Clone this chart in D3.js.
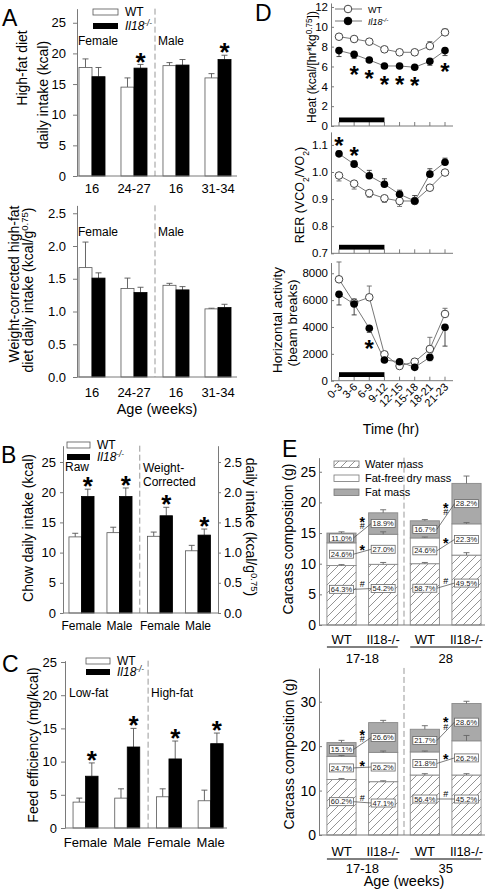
<!DOCTYPE html>
<html><head><meta charset="utf-8">
<script src="https://cdn.jsdelivr.net/npm/d3@7"></script>
<style>body{margin:0;background:#fff}</style>
</head><body>
<script>
// ================= DATA =================
// Panel A (high-fat diet intake)
const ageGroupsA = ["F16","F24-27","M16","M31-34"];
const ageLabelsA = ["16","24-27","16","31-34"];
const hfWT = [17.7,14.5,18.0,16.0], hfWTerr = [1.4,1.5,0.5,0.7];
const hfKO = [16.2,17.6,18.1,19.0], hfKOerr = [1.5,0.6,0.9,0.7];
const hfStars = [0,1,0,1];
const wcWT = [1.67,1.35,1.40,1.04], wcWTerr = [0.39,0.16,0.03,0.01];
const wcKO = [1.51,1.29,1.33,1.06], wcKOerr = [0.08,0.08,0.05,0.05];
const wcStars = [0,0,0,0];
const ticksA1 = [0,5,10,15,20,25], ticksA2 = [0,0.5,1,1.5,2,2.5];
// Panel B (chow intake)
const chowSets = ["Raw","WC"];
const chowSex = ["Female","Male"];
const chowWT = [12.6,13.3,1.27,1.03], chowWTerr = [0.6,0.9,0.07,0.09];
const chowKO = [19.3,19.3,1.61,1.29], chowKOerr = [1.2,1.4,0.14,0.10];
const chowStars = [1,1,1,1];
const ticksB = [0,5,10,15,20,25], ticksB2 = [0,0.5,1,1.5,2,2.5];
// Panel C (feed efficiency)
const dietC = ["Low-fat","High-fat"];
const feGroups = ["LF Female","LF Male","HF Female","HF Male"];
const feLabels = ["Female","Male","Female","Male"];
const feWT = [3.9,4.5,4.7,4.1], feWTerr = [0.6,1.4,1.2,1.6];
const feKO = [7.8,12.2,10.4,12.7], feKOerr = [2.0,2.8,2.7,1.6];
const feStars = [1,1,1,1];
const ticksC = [0,5,10,15,20,25];
// Panel D (indirect calorimetry)
const times = ["0-3","3-6","6-9","9-12","12-15","15-18","18-21","21-23"];
const darkPhase = ["0-3","9-12"];
const heatWT = [9.0,8.77,8.5,7.73,7.43,7.43,8.06,9.44];
const heatWTerr = [0.15,0.15,0.15,0.15,0.15,0.15,0.45,0.35];
const heatKO = [7.6,7.22,6.65,6.05,6.05,5.92,6.52,7.6];
const heatKOerr = [-0.6,-0.4,-0.2,-0.2,-0.2,-0.2,-0.4,-0.5];
const heatStars = [0,1,1,1,1,1,0,1];
const rerWT = [0.987,0.957,0.922,0.903,0.893,0.893,0.942,0.998];
const rerWTerr = [-0.02,-0.02,-0.015,-0.015,-0.02,-0.01,-0.01,-0.01];
const rerKO = [1.067,1.029,0.986,0.955,0.918,0.893,0.992,1.036];
const rerKOerr = [0.01,0.012,0.02,0.02,0.015,0.02,0.02,0.015];
const rerStars = [1,1,0,0,0,0,0,0];
const actWT = [7550,5800,6210,1965,1095,1415,2360,4970];
const actWTerr = [1290,300,840,200,150,200,870,420];
const actKO = [6430,5710,3900,1540,1415,995,1740,3975];
const actKOerr = [-790,-810,-300,-150,-150,-150,-250,-1400];
const actStars = [0,0,1,0,0,0,0,0];
const ticksHeat = [0,2,4,6,8,10,12], ticksRER = [0.7,0.8,0.9,1.0,1.1], ticksAct = [0,2000,4000,6000,8000];
// Panel E (carcass composition)
const barsE = ["WT","Il18-/-","WT","Il18-/-"];
const agesE1 = ["17-18","28"], agesE2 = ["17-18","35"];
const water1 = [9.7,9.9,10.0,11.4], ffdm1 = [3.7,4.9,4.2,5.1], fat1 = [1.6,3.5,2.8,6.6];
const waterErr1 = [0.15,0.3,0.2,0.4], ffdmErr1 = [0.15,0.4,0.15,0.2], fatErr1 = [0.2,0.5,0.2,1.2];
const waterPct1 = ["64.3%","54.2%","58.7%","49.5%"], ffdmPct1 = ["24.6%","27.0%","24.6%","22.3%"], fatPct1 = ["11.0%","18.9%","16.7%","28.2%"];
const water2 = [12.5,12.0,13.5,13.5], ffdm2 = [5.2,6.6,5.2,7.7], fat2 = [3.1,6.7,5.1,8.4];
const waterErr2 = [0.2,0.2,0.3,0.3], ffdmErr2 = [0.2,0.3,0.2,1.2], fatErr2 = [0.5,0.5,0.8,0.5];
const waterPct2 = ["60.2%","47.1%","56.4%","45.2%"], ffdmPct2 = ["24.7%","26.2%","21.8%","26.2%"], fatPct2 = ["15.1%","26.6%","21.7%","28.6%"];
const sigFat = ["*","#"], sigFfdm = ["*"], sigWater = ["#"];
const ticksE1 = [0,5,10,15,20,25], ticksE2 = [0,10,20,30];

// ================= DRAWING =================
const FONT = "'Liberation Sans', Arial, Helvetica, sans-serif";
const AX = '#7a7a7a';
const svg = d3.select('body').append('svg').attr('width',487).attr('height',891)
  .style('font-family',FONT);

function rich(t, parts){
  if(typeof parts === 'string'){ t.text(parts); return; }
  parts.forEach(p=>{
    const s = t.append('tspan').text(p.t);
    if(p.i) s.attr('font-style','italic');
    if(p.sup) s.attr('baseline-shift','super').attr('font-size','68%');
    if(p.sub) s.attr('baseline-shift','sub').attr('font-size','68%');
  });
}
function txt(x,y,s,o={}){
  const t = svg.append('text').attr('x',x).attr('y',y).attr('font-size',o.fs||12)
    .attr('text-anchor',o.anchor||'start').attr('fill',o.fill||'#000');
  if(o.italic) t.attr('font-style','italic');
  if(o.weight) t.attr('font-weight',o.weight);
  rich(t,s); return t;
}
function vtitle(cx,cy,parts,fs,angle=-90){
  const bx = angle<0 ? cx+0.36*fs : cx-0.36*fs;
  const t = svg.append('text').attr('transform',`translate(${bx},${cy}) rotate(${angle})`)
    .attr('text-anchor','middle').attr('font-size',fs).attr('fill','#000');
  rich(t,parts);
}
const KO = [{t:'Il18',i:true},{t:'-/-',i:true,sup:true}];
function star(cx,cy,fs=26){
  svg.append('text').attr('x',cx).attr('y',cy+0.58*fs).attr('text-anchor','middle')
    .attr('font-size',fs).attr('font-weight','bold').text('*');
}
function line(x1,y1,x2,y2,stroke=AX,w=1,dash=null){
  const l = svg.append('line').attr('x1',x1).attr('y1',y1).attr('x2',x2).attr('y2',y2)
    .attr('stroke',stroke).attr('stroke-width',w);
  if(dash) l.attr('stroke-dasharray',dash);
  return l;
}
function axisL(x,y,ticks,fmt,fs,size,pad){
  const g = svg.append('g').attr('transform',`translate(${x},0)`)
    .call(d3.axisLeft(y).tickValues(ticks).tickFormat(fmt).tickSize(size).tickSizeOuter(0).tickPadding(pad));
  g.attr('font-family',null).attr('font-size',null);
  g.select('.domain').attr('stroke',AX);
  g.selectAll('.tick line').attr('stroke',AX);
  g.selectAll('.tick text').attr('font-size',fs).attr('fill','#000');
  return g;
}
function axisR(x,y,ticks,fmt,fs,size,pad){
  const g = svg.append('g').attr('transform',`translate(${x},0)`)
    .call(d3.axisRight(y).tickValues(ticks).tickFormat(fmt).tickSize(size).tickSizeOuter(0).tickPadding(pad));
  g.attr('font-family',null).attr('font-size',null);
  g.select('.domain').attr('stroke',AX);
  g.selectAll('.tick line').attr('stroke',AX);
  g.selectAll('.tick text').attr('font-size',fs).attr('fill','#000');
  return g;
}
function errBar(cx,y1,y2,cap,stroke='#555'){
  line(cx,y1,cx,y2,stroke,0.9);
  line(cx-cap/2,y2,cx+cap/2,y2,stroke,0.9);
}
function barGroups(groups, xPos, bw, yOf, wt, wtE, ko, koE, stars, starFs){
  groups.forEach((gk,i)=>{
    const y = yOf(i);
    [['WT',wt,wtE,'#fff','#555'],['KO',ko,koE,'#000','#000']].forEach(([gt,v,e,fill,st])=>{
      const x0 = xPos(gk,gt), cx = x0+bw/2;
      errBar(cx, y(v[i]), y(v[i]+e[i]), 6);
      svg.append('rect').attr('x',x0).attr('y',y(v[i])).attr('width',bw).attr('height',y(0)-y(v[i]))
        .attr('fill',fill).attr('stroke',st).attr('stroke-width',0.8);
      if(gt==='KO' && stars[i]) star(cx, y(v[i]+e[i])-9, starFs);
    });
  });
}
function barLegend(x,y1,y2,w,h,fs){
  svg.append('rect').attr('x',x).attr('y',y1).attr('width',w).attr('height',h).attr('fill','#fff').attr('stroke','#555').attr('stroke-width',0.8);
  svg.append('rect').attr('x',x).attr('y',y2).attr('width',w).attr('height',h).attr('fill','#000');
  txt(x+w+7,y1+h+1,'WT',{fs});
  txt(x+w+7,y2+h+1,KO,{fs});
}

// ---------- Panel letters
txt(2,26,'A',{fs:23}); txt(1,463,'B',{fs:23}); txt(2,672,'C',{fs:23});
txt(255,21,'D',{fs:23}); txt(282,457,'E',{fs:23});

// ---------- Panel A
const xA = d3.scaleBand().domain(ageGroupsA).range([71,239]).paddingInner(0.38).paddingOuter(0.19);
const gA = d3.scaleBand().domain(['WT','KO']).range([0,xA.bandwidth()]);
const midA = (xA(ageGroupsA[1])+xA.bandwidth()+xA(ageGroupsA[2]))/2;
const yA1 = d3.scaleLinear().domain([0,27.3]).range([176,176-27.3*6.13]);
const yA2 = d3.scaleLinear().domain([0,2.62]).range([377,377-2.62*65.5]);
[[yA1,ticksA1,d3.format('d'),hfWT,hfWTerr,hfKO,hfKOerr,hfStars,193,45],
 [yA2,ticksA2,d3.format('.1f'),wcWT,wcWTerr,wcKO,wcKOerr,wcStars,397,236]].forEach(([y,tk,fmt,w,we,k,ke,st,ly,sy])=>{
  line(midA,y.range()[1],midA,y(0),'#999',1,'6,3');
  barGroups(ageGroupsA,(g,t)=>xA(g)+gA(t),gA.bandwidth(),()=>y,w,we,k,ke,st,26);
  axisL(77,y,tk,fmt,13,4,7);
  line(77,y(0),237,y(0));
  ageGroupsA.forEach((g,i)=>txt(xA(g)+xA.bandwidth()/2,ly,ageLabelsA[i],{fs:13,anchor:'middle'}));
  txt(78,sy,'Female',{fs:12}); txt(midA+3,sy,'Male',{fs:12});
});
barLegend(93,9,23,25,6,12);
vtitle(22,68,'High-fat diet',14);
vtitle(43,95,'daily intake (kcal)',14);
vtitle(14,284,'Weight-corrected high-fat',14);
vtitle(28,290,[{t:'diet daily intake (kcal/g'},{t:'0.75',sup:true},{t:')'}],14);
txt(157,414,'Age (weeks)',{fs:14.5,anchor:'middle'});

// ---------- Panel B
const yB = d3.scaleLinear().domain([0,27.7]).range([613,613-27.7*6.04]);
const yB2 = d3.scaleLinear().domain([0,2.77]).range(yB.range());
const xBh = d3.scaleBand().domain(chowSets).range([61.25,218.25]);
const xBs = d3.scaleBand().domain(chowSex).range([0,xBh.bandwidth()]).paddingInner(0.34).paddingOuter(0.203);
const gB = d3.scaleBand().domain(['WT','KO']).range([0,xBs.bandwidth()]);
const groupsB = chowSets.flatMap(s=>chowSex.map(x=>s+'|'+x));
const xBpos = (gk,t)=>{const [s,x]=gk.split('|'); return xBh(s)+xBs(x)+gB(t);};
line(xBh(chowSets[1]),yB.range()[1],xBh(chowSets[1]),yB(0),'#999',1,'6,3');
barGroups(groupsB,xBpos,gB.bandwidth(),i=>i<2?yB:yB2,chowWT,chowWTerr,chowKO,chowKOerr,chowStars,26);
axisL(63,yB,ticksB,d3.format('d'),13,3,4);
axisR(218,yB2,ticksB2,d3.format('.1f'),13,3,3);
line(63,yB(0),218,yB(0));
groupsB.forEach(gk=>{const [s,x]=gk.split('|'); txt(xBh(s)+xBs(x)+xBs.bandwidth()/2,630,x,{fs:12,anchor:'middle'});});
barLegend(67,442,454,23,6,12);
txt(65,471,'Raw',{fs:12});
txt(143,472,'Weight-',{fs:12}); txt(143,486,'Corrected',{fs:12});
vtitle(28,528,'Chow daily intake (kcal)',14);
vtitle(251,527,[{t:'daily intake (kcal/g'},{t:'0.75',sup:true},{t:')'}],14,90);

// ---------- Panel C
const yC = d3.scaleLinear().domain([0,25.2]).range([828,828-25.2*6.64]);
const xC = d3.scaleBand().domain(feGroups).range([64.7,231.5]).paddingInner(0.4).paddingOuter(0.2);
const gC = d3.scaleBand().domain(['WT','KO']).range([0,xC.bandwidth()]);
const midC = (xC(feGroups[1])+xC.bandwidth()+xC(feGroups[2]))/2;
line(midC,yC.range()[1],midC,yC(0),'#999',1,'6,3');
barGroups(feGroups,(g,t)=>xC(g)+gC(t),gC.bandwidth(),()=>yC,feWT,feWTerr,feKO,feKOerr,feStars,26);
axisL(65,yC,ticksC,d3.format('d'),13,4,4);
line(65,yC(0),227,yC(0));
feGroups.forEach((g,i)=>txt(xC(g)+xC.bandwidth()/2,847,feLabels[i],{fs:13,anchor:'middle'}));
barLegend(86,658,669,24,6,12);
txt(69,697,dietC[0],{fs:12}); txt(midC+3,697,dietC[1],{fs:12});
vtitle(33,745,'Feed efficiency (mg/kcal)',14);

// ---------- Panel D
const xD = d3.scalePoint().domain(times).range([339,445]);
const DL = 331, DR = 453;
function linePanel(y,ticks,fmt,wt,wtE,ko,koE,stars,starDir){
  axisL(DL,y,ticks,fmt,11.5,-3,3);
  const b = y.range()[0];
  line(DL,b,DR,b);
  times.forEach(t=>line(xD(t),b,xD(t),b-4,AX,1));
  svg.append('rect').attr('x',xD(darkPhase[0])).attr('y',b-8.5).attr('width',xD(darkPhase[1])-xD(darkPhase[0])).attr('height',4.8).attr('fill','#000');
  const ln = d3.line().x((d,i)=>xD(times[i])).y(d=>y(d));
  svg.append('path').attr('d',ln(wt)).attr('fill','none').attr('stroke','#777').attr('stroke-width',1);
  svg.append('path').attr('d',ln(ko)).attr('fill','none').attr('stroke','#777').attr('stroke-width',1);
  wt.forEach((v,i)=>errBar(xD(times[i]),y(v),y(v+wtE[i]),5,'#666'));
  ko.forEach((v,i)=>errBar(xD(times[i]),y(v),y(v+koE[i]),5,'#333'));
  wt.forEach((v,i)=>svg.append('circle').attr('cx',xD(times[i])).attr('cy',y(v)).attr('r',3.8).attr('fill','#fff').attr('stroke','#444').attr('stroke-width',1));
  ko.forEach((v,i)=>svg.append('circle').attr('cx',xD(times[i])).attr('cy',y(v)).attr('r',3.8).attr('fill','#000'));
  ko.forEach((v,i)=>{ if(stars[i]) star(xD(times[i]), y(v+koE[i]) + starDir*11, 24); });
}
const yHeat = d3.scaleLinear().domain([0,12.4]).range([126,126-12.4*9.92]);
const yRER = d3.scaleLinear().domain([0.7,1.148]).range([253.3,253.3-0.448*271]);
const yAct = d3.scaleLinear().domain([0,8800]).range([380.7,380.7-8.8*13.43]);
linePanel(yHeat,ticksHeat,d3.format('d'),heatWT,heatWTerr,heatKO,heatKOerr,heatStars,1);
linePanel(yRER,ticksRER,d3.format('.1f'),rerWT,rerWTerr,rerKO,rerKOerr,rerStars,-1);
linePanel(yAct,ticksAct,d3.format('d'),actWT,actWTerr,actKO,actKOerr,actStars,1);
times.forEach(t=>svg.append('text').attr('transform',`translate(${xD(t)+4},${yAct(0)+7}) rotate(-45)`)
  .attr('text-anchor','end').attr('font-size',11).text(t));
txt(391,434,'Time (hr)',{fs:14,anchor:'middle'});
// legend D
[[9,'#fff','WT'],[21,'#000',KO]].forEach(([yy,f,lab])=>{
  line(335,yy,362,yy,'#777',1);
  svg.append('circle').attr('cx',348).attr('cy',yy).attr('r',3.8).attr('fill',f).attr('stroke',f==='#fff'?'#444':'#000');
  txt(368,yy+3.5,lab,{fs:9});
});
vtitle(312,67,[{t:'Heat (kcal/[hr*kg'},{t:'0.75',sup:true},{t:'])'}],12);
vtitle(299,195,[{t:'RER (VCO'},{t:'2',sub:true},{t:'/VO'},{t:'2',sub:true},{t:')'}],12.5);
vtitle(277,320,'Horizontal activity',13.5);
vtitle(292,323,'(beam breaks)',13.5);

// ---------- Panel E
const defs = svg.append('defs');
const pat = defs.append('pattern').attr('id','hatch').attr('patternUnits','userSpaceOnUse').attr('width',8).attr('height',8);
pat.append('rect').attr('width',8).attr('height',8).attr('fill','#fff');
pat.append('path').attr('d','M0,8 L8,0 M-2,2 L2,-2 M6,10 L10,6').attr('stroke','#666').attr('stroke-width',0.7);

const xE = d3.scaleBand().domain(d3.range(4)).range([319,489]).paddingInner(0.3).paddingOuter(0.19);
const EL = 319, ER = 485;
function stackPanel(y,ticks,water,ffdm,fat,wE,fE,ftE,wP,fP,ftP,ages,labY,ulY,ageY){
  const bw = xE.bandwidth();
  const mid = (xE(1)+bw+xE(2))/2;
  line(mid,y.range()[1],mid,y(0),'#999',1,'6,3');
  const lab = [];
  d3.range(4).forEach(i=>{
    const x0 = xE(i), cx = x0+bw/2;
    const segs = [[0,water[i],'url(#hatch)',wE[i]],[water[i],water[i]+ffdm[i],'#fff',fE[i]],[water[i]+ffdm[i],water[i]+ffdm[i]+fat[i],'#a9a9a9',ftE[i]]];
    segs.forEach(([a,b,f])=>svg.append('rect').attr('x',x0).attr('y',y(b)).attr('width',bw).attr('height',y(a)-y(b)).attr('fill',f).attr('stroke','#8a8a8a').attr('stroke-width',0.9));
    segs.forEach(([a,b,f,e])=>errBar(cx,y(b),y(b+e),6,'#666'));
    const ly = [y(water[i]*0.6), y(water[i]+ffdm[i]/2), y(water[i]+ffdm[i]+fat[i]/2)];
    lab.push(ly);
    [[wP[i],ly[0]],[fP[i],ly[1]],[ftP[i],ly[2]]].forEach(([s,yy])=>{
      svg.append('rect').attr('x',cx-12).attr('y',yy-4).attr('width',24).attr('height',8).attr('fill','#fff').attr('stroke','#666').attr('stroke-width',0.8);
      svg.append('text').attr('x',cx).attr('y',yy+2.6).attr('text-anchor','middle').attr('font-size',7.5).attr('fill','#222').text(s);
    });
    txt(cx,labY,barsE[i],{fs:13,anchor:'middle'});
  });
  // significance connectors
  [0,2].forEach(i=>{
    const xa = xE(i)+bw/2+12, xb = xE(i+1)+bw/2-12, mx = (xa+xb)/2;
    [[0,sigWater],[1,sigFfdm],[2,sigFat]].forEach(([k,sig])=>{
      const ya = lab[i][k], yb = lab[i+1][k], my = (ya+yb)/2;
      line(xa,ya,xb,yb,'#444',0.7);
      const top = my - 5 - (sig.length-1)*7;
      const t = svg.append('text').attr('text-anchor','middle');
      sig.forEach((s,j)=>{
        const cy = top + j*7;
        const sp = t.append('tspan').attr('x',mx).text(s);
        if(s==='*') sp.attr('y',cy+0.58*14).attr('font-size',14).attr('font-weight','bold');
        else sp.attr('y',cy+3.2).attr('font-size',9);
      });
    });
    line(xE(i),ulY,xE(i+1)+bw,ulY,'#000',1);
    txt((xE(i)+xE(i+1)+bw)/2,ageY,ages[i/2],{fs:13,anchor:'middle'});
  });
  axisL(EL,y,ticks,d3.format('d'),14,-3,3);
  line(EL,y(0),ER,y(0));
}
const yE1 = d3.scaleLinear().domain([0,27.3]).range([625,625-27.3*6.13]);
const yE2 = d3.scaleLinear().domain([0,37.6]).range([835,835-37.6*4.443]);
stackPanel(yE1,ticksE1,water1,ffdm1,fat1,waterErr1,ffdmErr1,fatErr1,waterPct1,ffdmPct1,fatPct1,agesE1,644,647,663);
stackPanel(yE2,ticksE2,water2,ffdm2,fat2,waterErr2,ffdmErr2,fatErr2,waterPct2,ffdmPct2,fatPct2,agesE2,856,859,873);
// legend E
[[461,'url(#hatch)','Water mass'],[475,'#fff','Fat-free dry mass'],[489,'#a9a9a9','Fat mass']].forEach(([yy,f,s])=>{
  svg.append('rect').attr('x',334).attr('y',yy).attr('width',25).attr('height',6.5).attr('fill',f).attr('stroke','#777').attr('stroke-width',0.8);
  txt(365,yy+7,s,{fs:11});
});
vtitle(288,539,'Carcass composition (g)',14);
vtitle(289,754,'Carcass composition (g)',14);
txt(404,886,'Age (weeks)',{fs:14.5,anchor:'middle'});
</script>
</body></html>
